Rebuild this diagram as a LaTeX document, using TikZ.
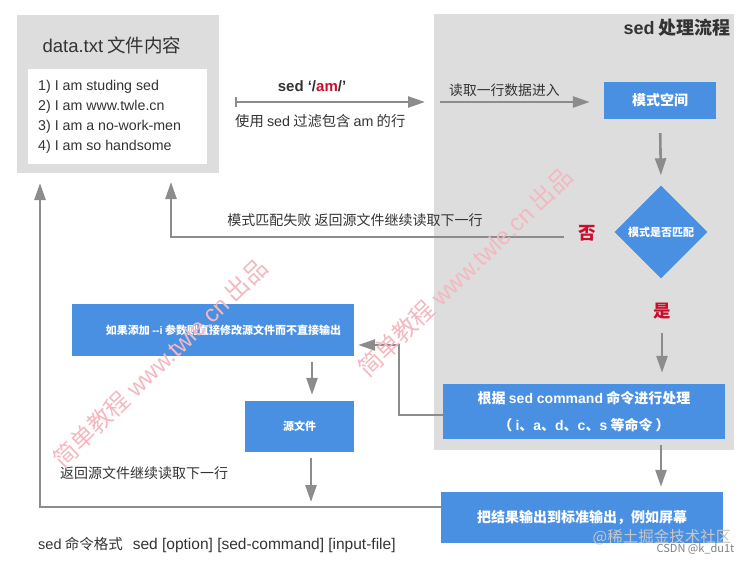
\documentclass[tikz,border=0pt]{standalone}
\usepackage{fontspec}
\setmainfont{Noto Sans CJK SC}
\newfontfamily\latinfont{Liberation Sans}
\usepackage{tikz}
\usetikzlibrary{calc}
\usetikzlibrary{shapes.geometric}
\usetikzlibrary{arrows.meta}
\definecolor{panelgray}{RGB}{221,221,221}
\definecolor{flowblue}{RGB}{74,144,226}
\definecolor{arrowgray}{RGB}{140,140,140}
\definecolor{textgray}{RGB}{51,51,51}
\definecolor{markred}{RGB}{200,16,46}
\definecolor{markpink}{RGB}{244,184,192}
\tikzset{
	% Two box styles for the flow: gray panels and blue steps
	gray panel/.style={rectangle,fill=panelgray,inner sep=0},
	blue box/.style={rectangle,fill=flowblue,text=white,inner sep=0,align=center},
	flow arrow/.style={draw=arrowgray,line width=2.6pt,-{Triangle[length=17pt,width=11pt]}},
	plain text/.style={text=textgray,inner sep=0}
}
\begin{document}
\begin{tikzpicture}[x=1pt,y=-1pt]
	% macro for font size in pt, and one for latin words
	\newcommand{\fsize}[1]{\fontsize{#1}{#1}\selectfont}
	\newcommand{\lt}[1]{{\latinfont #1}}
	\useasboundingbox (0,0) rectangle (749,564);
	
	% left panel: the file
	\node(datapanel)[gray panel,minimum width=202pt,minimum height=158pt] at (118,94){};
	\node(datatitle)[plain text,font=\fsize{18.5}] at (112,45){\lt{data.txt} 文件内容};
	\node(datalines)[rectangle,fill=white,minimum width=179pt,minimum height=95pt] at (117.5,116.5){};
	\node(datatext)[plain text,anchor=west,align=left,font=\fontsize{14.2}{20}\selectfont\latinfont] at (38,117)
		{1) I am studing sed\\2) I am www.twle.cn\\3) I am a no-work-men\\4) I am so handsome};
	
	% right panel: sed itself
	\node(procpanel)[gray panel,minimum width=300pt,minimum height=436pt] at (584,232){};
	\node(proctitle)[plain text,anchor=east,font=\fsize{18}\bfseries] at (731,28){\lt{sed} 处理流程};
	
	\node(patspace)[blue box,minimum width=112pt,minimum height=37pt,font=\fsize{14}\bfseries] at (660,100.5){模式空间};
	\node(match)[blue box,diamond,minimum width=93pt,minimum height=93pt,font=\fsize{11}\bfseries] at (661,232){模式是否匹配};
	\node(no)[text=markred,font=\fsize{17.5}\bfseries] at (587,233){否};
	\node(yes)[text=markred,font=\fsize{17.5}\bfseries] at (662,311){是};
	\node(cmd)[blue box,minimum width=282pt,minimum height=55pt,font=\fontsize{14}{27}\selectfont\bfseries] at (584,411.5)
		{根据 \lt{sed command} 命令进行处理\\（ \lt{i}、\lt{a}、\lt{d}、\lt{c}、\lt{s} 等命令 ）};
	\node(result)[blue box,minimum width=282pt,minimum height=51pt,font=\fsize{14}\bfseries] at (582,517.5)
		{把结果输出到标准输出，例如屏幕};
	
	% in-place branch
	\node(ifbox)[blue box,minimum width=282pt,minimum height=52pt,font=\fsize{11}\bfseries] at (213,330)
		{\hspace{21pt}如果添加 \lt{--i} 参数则直接修改源文件而不直接输出};
	\node(source)[blue box,minimum width=109pt,minimum height=51pt,font=\fsize{11}\bfseries] at (299.5,426.5){源文件};
	
	% turning points of the connectors
	\coordinate(filterstart) at (235,102);
	\coordinate(filterend) at (425,102);
	\coordinate(readstart) at (440,102);
	\coordinate(failstart) at (564,237);
	\coordinate(failup) at (171,173);
	\coordinate(inturn) at (399,345);
	\coordinate(srcx) at (312,0);
	\coordinate(backx) at (40,173);
	\coordinate(backline) at (311,507);
	
	% connectors
	\draw[flow arrow,{Bar[width=10pt,line width=2pt]}-{Triangle[length=17pt,width=11pt]}](filterstart)--(filterend);
	\draw[flow arrow,shorten >=14pt](readstart)--(readstart-|patspace.west);
	\draw[flow arrow,shorten <=14pt,shorten >=10pt](patspace.south)--(match.north);
	\draw[flow arrow,shorten >=9pt](failstart)-|(failup);
	\draw[flow arrow,shorten <=10pt,shorten >=11pt](yes.south)--(yes.south|-cmd.north);
	\draw[flow arrow,shorten >=4pt](cmd.west|-0,415)-|(inturn)--(inturn-|ifbox.east);
	\draw[flow arrow,shorten <=6pt,shorten >=6pt](srcx|-ifbox.south)--(srcx|-source.north);
	\draw[flow arrow,shorten <=6pt,shorten >=5pt](match|-cmd.south)--(match|-result.north);
	\draw[flow arrow,shorten <=6pt,shorten >=5pt](source.south-|backline)--(backline);
	\draw[flow arrow,shorten >=10pt](result.west|-backline)-|(backx);
	
	% labels on the connectors
	\node(filterlabel)[plain text,font=\fsize{15}\bfseries\latinfont] at (312,86){sed ‘/\textcolor{markred}{am}/’};
	\node(filternote)[plain text,anchor=west,font=\fsize{14.3}] at (235,121){使用 \lt{sed} 过滤包含 \lt{am} 的行};
	\node(readlabel)[plain text,anchor=west,font=\fsize{13.8}] at (449,90){读取一行数据进入};
	\node(faillabel)[plain text,font=\fsize{14}] at (355,220){模式匹配失败 返回源文件继续读取下一行};
	\node(backlabel)[plain text,anchor=west,font=\fsize{14}] at (60,473){返回源文件继续读取下一行};
	\node(usage)[plain text,anchor=west,font=\fsize{14.5}] at (38,545)
		{\lt{sed} 命令格式\hspace{10pt}{\fsize{15.5}\latinfont sed [option] [sed-command] [input-file]}};
	
	% watermarks
	\node(mark1)[text=markpink,rotate=44,font=\fsize{24}] at (160,363){简单教程 \lt{www.twle.cn} 出品};
	\node(mark2)[text=markpink,rotate=44,font=\fsize{24}] at (465,272){简单教程 \lt{www.twle.cn} 出品};
	\node(mark3)[text=white!55!gray,font=\fsize{15.5}] at (662,537){@稀土掘金技术社区};
	\node(mark4)[text=gray,font=\fsize{11}] at (695.5,549){CSDN @k\_du1t};
\end{tikzpicture}
\end{document}
